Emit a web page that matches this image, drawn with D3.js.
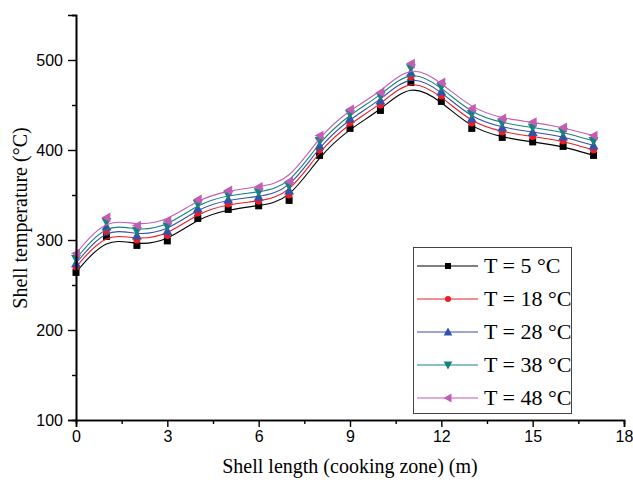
<!DOCTYPE html>
<meta charset="utf-8">
<html>
<head>
    <script src="https://d3js.org/d3.v7.min.js"></script>
    <style>
        body { margin: 0; background: #fff; }
    </style>
</head>
<body>
<script>

    // shell length positions (m)
    var posicoes = [0, 1, 2, 3, 4, 5, 6, 7, 8, 9, 10, 11, 12, 13, 14, 15, 16, 17];

    // shell temperature (°C) per ambient temperature
    var t5  = [264, 304, 294, 299, 324, 334, 338, 344, 394, 424, 444, 475, 454, 424, 414, 409, 404, 394];
    var t18 = [270, 309, 300, 305, 330, 340, 343, 350, 400, 430, 450, 481, 460, 430, 420, 415, 410, 400];
    var t28 = [274, 315, 305, 310, 335, 345, 348, 355, 405, 435, 455, 486, 465, 435, 425, 420, 415, 405];
    var t38 = [279, 320, 310, 315, 340, 350, 353, 360, 410, 440, 460, 491, 470, 440, 430, 425, 420, 410];
    var t48 = [285, 325, 316, 321, 345, 355, 359, 365, 416, 445, 464, 496, 475, 446, 435, 431, 425, 416];

    var legendas = ["T = 5 °C", "T = 18 °C", "T = 28 °C", "T = 38 °C", "T = 48 °C"];
    var xTicks = [0, 3, 6, 9, 12, 15, 18];
    var yTicks = [100, 200, 300, 400, 500];

    var series = [
        { nome: legendas[0], valores: t5,  cor: "#000000", simbolo: "square" },
        { nome: legendas[1], valores: t18, cor: "#ee1c24", simbolo: "circle" },
        { nome: legendas[2], valores: t28, cor: "#3352a8", simbolo: "up" },
        { nome: legendas[3], valores: t38, cor: "#16837f", simbolo: "down" },
        { nome: legendas[4], valores: t48, cor: "#c25cb4", simbolo: "left" }
    ];

    var largura = 633;
    var altura = 484;

    var svg = d3.select("body").append("svg")
        .attr("width", largura)
        .attr("height", altura);

    var x = d3.scaleLinear().domain([0, 18]).range([76, 624]);
    var y = d3.scaleLinear().domain([100, 550]).range([420, 15]);

    // desenhar um marcador
    function marcador(g, tipo, cor, s) {
        if (tipo === "square") {
            g.append("rect").attr("x", -s / 2).attr("y", -s / 2)
                .attr("width", s).attr("height", s).attr("fill", cor);
        } else if (tipo === "circle") {
            g.append("circle").attr("r", s / 2).attr("fill", cor);
        } else {
            var h = s * 0.55;
            var pts;
            if (tipo === "up") pts = [[0, -h], [h, h * 0.8], [-h, h * 0.8]];
            if (tipo === "down") pts = [[0, h], [h, -h * 0.8], [-h, -h * 0.8]];
            if (tipo === "left") pts = [[-h, 0], [h * 0.8, -h], [h * 0.8, h]];
            g.append("path").attr("d", "M" + pts.join("L") + "Z").attr("fill", cor);
        }
    }

    var linha = d3.line()
        .x(function (d) { return x(d[0]); })
        .y(function (d) { return y(d[1]); })
        .curve(d3.curveBasis);

    series.forEach(function (s) {
        var pts = posicoes.map(function (p, i) { return [p, s.valores[i]]; });

        svg.append("path")
            .attr("d", linha(pts))
            .attr("fill", "none")
            .attr("stroke", s.cor)
            .attr("stroke-width", 1.1);

        pts.forEach(function (p) {
            var g = svg.append("g").attr("transform", "translate(" + x(p[0]) + "," + y(p[1]) + ")");
            marcador(g, s.simbolo, s.cor, s.simbolo === "square" || s.simbolo === "circle" ? 7 : 9);
        });
    });

    // eixos
    var eixoX = svg.append("g").attr("transform", "translate(0,420)");
    eixoX.call(d3.axisBottom(x).tickValues(xTicks).tickSize(7).tickPadding(4).tickFormat(d3.format("d")));
    eixoX.append("g").call(d3.axisBottom(x).tickValues(d3.range(1.5, 18, 3)).tickSize(4).tickFormat(""));

    var eixoY = svg.append("g").attr("transform", "translate(76,0)");
    eixoY.call(d3.axisLeft(y).tickValues(yTicks).tickSize(8).tickPadding(5).tickFormat(d3.format("d")));
    eixoY.append("g").call(d3.axisLeft(y).tickValues([150, 250, 350, 450, 550]).tickSize(4).tickFormat(""));

    svg.selectAll(".domain").attr("stroke", "#000").attr("stroke-width", 1.6);
    svg.selectAll(".tick line").attr("stroke", "#000").attr("stroke-width", 1.4);
    svg.selectAll(".tick text")
        .style("font-family", "Liberation Sans, Arial")
        .style("font-size", "16px")
        .attr("fill", "#000");

    // títulos
    svg.append("text")
        .attr("x", 350).attr("y", 473)
        .attr("text-anchor", "middle")
        .style("font-family", "Liberation Serif, Times New Roman")
        .style("font-size", "20px")
        .text("Shell length (cooking zone) (m)");

    svg.append("text")
        .attr("transform", "translate(27,218) rotate(-90)")
        .attr("text-anchor", "middle")
        .style("font-family", "Liberation Serif, Times New Roman")
        .style("font-size", "20px")
        .text("Shell temperature (°C)");

    // legenda
    var legenda = svg.append("g").attr("class", "legenda");
    legenda.append("rect")
        .attr("x", 413.5).attr("y", 247.5)
        .attr("width", 158).attr("height", 166)
        .attr("fill", "#fff")
        .attr("stroke", "#444")
        .attr("stroke-width", 1);

    series.forEach(function (s, i) {
        var ly = 266 + i * 33;
        legenda.append("line")
            .attr("x1", 417).attr("x2", 478)
            .attr("y1", ly).attr("y2", ly)
            .attr("stroke", s.cor).attr("stroke-width", 1.1);
        var g = legenda.append("g").attr("transform", "translate(448," + ly + ")");
        marcador(g, s.simbolo, s.cor, s.simbolo === "square" || s.simbolo === "circle" ? 6 : 8);
        legenda.append("text")
            .attr("x", 484).attr("y", ly + 7)
            .style("font-family", "Liberation Serif, Times New Roman")
            .style("font-size", "22px")
            .text(s.nome);
    });

</script>
</body>
</html>
